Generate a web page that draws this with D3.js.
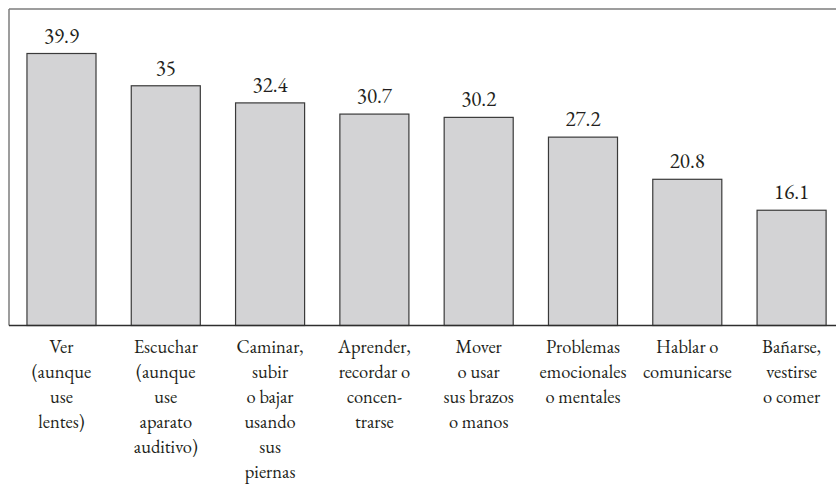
<!DOCTYPE html>
<html>
<head>
<meta charset="utf-8">
<style>
  body { margin: 0; background: #fff; }
  svg { display: block; }
</style>
</head>
<body>
<svg></svg>
<script src="https://d3js.org/d3.v7.min.js"></script>
<script>
const width = 836;
const height = 485;
const font = '"EB Garamond", "Liberation Serif", serif';

// categories (one array of lines per label) and values
const categories = ["ver", "escuchar", "caminar", "aprender", "mover", "problemas", "hablar", "banarse"];
const labelLines = [
  ["Ver", "(aunque", "use", "lentes)"],
  ["Escuchar", "(aunque", "use", "aparato", "auditivo)"],
  ["Caminar,", "subir", "o bajar", "usando", "sus", "piernas"],
  ["Aprender,", "recordar o", "concen-", "trarse"],
  ["Mover", "o usar", "sus brazos", "o manos"],
  ["Problemas", "emocionales", "o mentales"],
  ["Hablar o", "comunicarse"],
  ["Bañarse,", "vestirse", "o comer"]
];
const values = [39.9, 35, 32.4, 30.7, 30.2, 27.2, 20.8, 16.1];
const valueLabels = ["39.9", "35", "32.4", "30.7", "30.2", "27.2", "20.8", "16.1"];

const svg = d3.select("svg").attr("width", width).attr("height", height);

const frameLeft = 9, frameTop = 9, baseline = 325.5;

const x = d3.scaleBand()
    .domain(categories)
    .range([frameLeft, width])
    .paddingInner(0.338)
    .paddingOuter(0.1335)
    .align(0.645);

const y = d3.scaleLinear()
    .domain([-1.4, 39.9])
    .range([baseline, 53.5]);

// frame: top and left in grey, baseline darker
svg.append("line")
    .attr("x1", frameLeft).attr("x2", width)
    .attr("y1", frameTop).attr("y2", frameTop)
    .attr("stroke", "#7d7d7d").attr("stroke-width", 1.5);
svg.append("line")
    .attr("x1", frameLeft).attr("x2", frameLeft)
    .attr("y1", frameTop).attr("y2", baseline)
    .attr("stroke", "#7d7d7d").attr("stroke-width", 1.5);

svg.selectAll("rect.bar")
    .data(values)
    .enter().append("rect")
    .attr("class", "bar")
    .attr("x", (d, i) => x(categories[i]))
    .attr("y", d => y(d))
    .attr("width", x.bandwidth())
    .attr("height", d => baseline - y(d))
    .attr("fill", "#d3d3d5")
    .attr("stroke", "#3a3a3a")
    .attr("stroke-width", 1.2);

svg.append("line")
    .attr("x1", frameLeft).attr("x2", width)
    .attr("y1", baseline).attr("y2", baseline)
    .attr("stroke", "#2e2e2e").attr("stroke-width", 1.3);

// value labels
svg.selectAll("text.value")
    .data(values)
    .enter().append("text")
    .attr("class", "value")
    .attr("x", (d, i) => x(categories[i]) + x.bandwidth() / 2)
    .attr("y", d => y(d) - 11)
    .attr("text-anchor", "middle")
    .attr("font-family", font)
    .attr("font-size", 21)
    .attr("fill", "#231f20")
    .text((d, i) => valueLabels[i]);

// category labels
const cat = svg.selectAll("text.cat")
    .data(labelLines)
    .enter().append("text")
    .attr("class", "cat")
    .attr("text-anchor", "middle")
    .attr("font-family", font)
    .attr("font-size", 18.5)
    .attr("fill", "#231f20");

cat.selectAll("tspan")
    .data((d, i) => d.map(t => ({ t, i })))
    .enter().append("tspan")
    .attr("x", d => x(categories[d.i]) + x.bandwidth() / 2)
    .attr("y", (d, j) => 353 + j * 25)
    .text(d => d.t);
</script>
</body>
</html>
